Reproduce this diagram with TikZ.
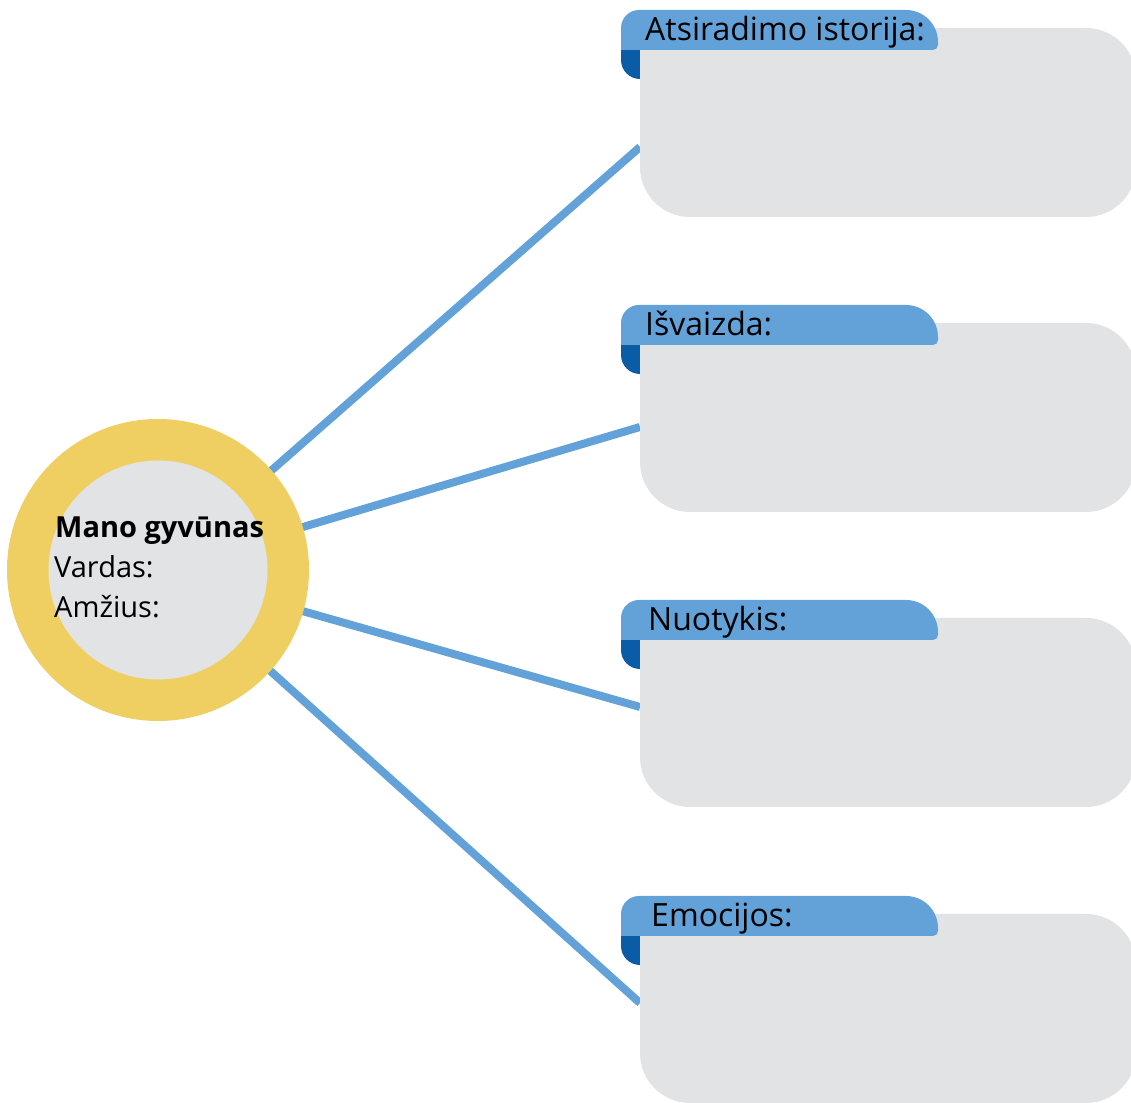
\documentclass[tikz,border=0pt]{standalone}
\usepackage{fontspec}
\setmainfont{Open Sans}
\definecolor{ringyellow}{HTML}{F0CF62}
\definecolor{boxgray}{HTML}{E2E3E5}
\definecolor{tabblue}{HTML}{62A2D8}
\definecolor{darkblue}{HTML}{0B5CA6}
\begin{document}
\begin{tikzpicture}[x=1pt,y=1pt,
  link/.style={draw=tabblue,line width=8pt},
  tabtext/.style={anchor=base west,inner sep=0pt,font=\fontsize{32}{36}\selectfont},
  circtext/.style={anchor=base west,inner sep=0pt,font=\fontsize{29}{34}\selectfont}]
\useasboundingbox (0,0) rectangle (1131,1102);
% centre of the circle
\coordinate (cc) at (158,532);
% connector end points on the boxes (pixel y converted: Y = 1102 - y)
\coordinate (e1) at (640,{1102-147});
\coordinate (e2) at (640,{1102-427});
\coordinate (e3) at (640,{1102-707});
\coordinate (e4) at (640,{1102-1003});
\foreach \e in {e1,e2,e3,e4} \draw[link] (cc) -- (\e);
% circle
\node[circle,fill=ringyellow,minimum size=302pt,inner sep=0pt] (outer) at (cc) {};
\node[circle,fill=boxgray,minimum size=219pt,inner sep=0pt] (inner) at (cc) {};
\node[circtext,font=\fontsize{29}{34}\selectfont\bfseries] (title) at (55,{1102-538}) {Mano gyvūnas};
\node[circtext] (vardas) at (54,{1102-578}) {Vardas:};
\node[circtext] (amzius) at (54,{1102-618}) {Amžius:};
% boxes
\foreach \T/\lab/\tx/\nm in {10/{Atsiradimo istorija:}/645/b1,305/{Išvaizda:}/645/b2,600/{Nuotykis:}/648/b3,896/{Emocijos:}/651/b4}{
  \pgfmathsetmacro{\Yt}{1102-\T}
  % dark blue fold
  \fill[darkblue] (660,{\Yt-30}) -- (621,{\Yt-30}) -- (621,{\Yt-69+19})
     arc[start angle=180,end angle=270,radius=19] -- (660,{\Yt-69}) -- cycle;
  % grey box
  \fill[boxgray] (640,{\Yt-18}) -- (1086,{\Yt-18}) arc[start angle=90,end angle=0,radius=50]
     -- (1136,{\Yt-207+50}) arc[start angle=0,end angle=-90,radius=50]
     -- (690,{\Yt-207}) arc[start angle=270,end angle=180,radius=50] -- cycle;
  % tab
  \fill[tabblue] (621,{\Yt-40}) -- (621,{\Yt-18}) arc[start angle=180,end angle=90,radius=18]
     -- (906,\Yt) arc[start angle=90,end angle=0,radius=32]
     -- (938,{\Yt-35}) arc[start angle=0,end angle=-90,radius=5] -- cycle;
  \node[tabtext] (\nm) at (\tx,{\Yt-31}) {\lab};
}
\end{tikzpicture}
\end{document}
